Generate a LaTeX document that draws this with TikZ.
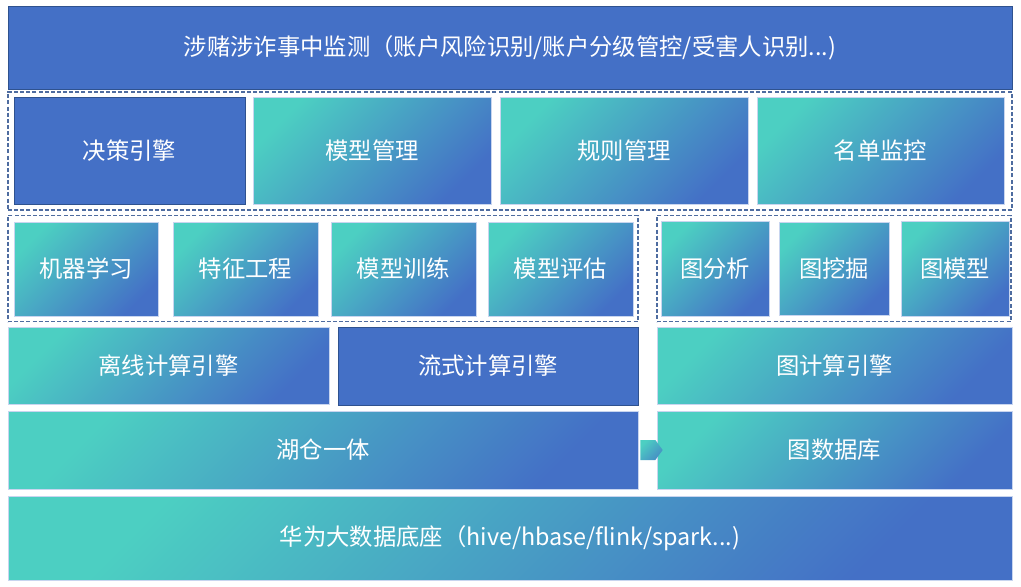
\documentclass[tikz,border=0pt]{standalone}
\usepackage{fontspec}
\setmainfont{Noto Sans CJK SC}
\usetikzlibrary{calc}
\definecolor{tealc}{HTML}{4CCFC2}
\definecolor{bluec}{HTML}{4470C6}
\definecolor{edgec}{HTML}{2F528F}
\definecolor{paleedge}{HTML}{C8D5EF}

\begin{document}
\begin{tikzpicture}[x=0.75pt,y=-0.75pt,
    sz/.style 2 args={minimum width=#1*0.75pt,minimum height=#2*0.75pt,inner sep=0pt},
    gradbox/.style={draw=paleedge,line width=0.5pt,top color=tealc,bottom color=bluec,shading angle=45,text=white,font=\fontsize{17.5}{19}\selectfont},
    bluebox/.style={draw=edgec,line width=0.7pt,fill=bluec,text=white,font=\fontsize{17.5}{19}\selectfont},
    groupbox/.style={draw=edgec!85!white,line width=0.8pt,dash pattern=on 3pt off 1.6pt}]
    \useasboundingbox (0,0) rectangle (1021,586);
    \fill[white] (0,0) rectangle (1021,586);
    \node[bluebox,sz={1004}{83}] (monitor) at (510,47.5) {涉赌涉诈事中监测（账户风险识别/账户分级管控/受害人识别...)};
    \node[groupbox,sz={1004}{118}] (appgroup) at (510,151) {};
    \node[bluebox,sz={231}{107}] (decision) at (129.5,150.5) {决策引擎};
    \node[gradbox,sz={238}{107}] (modelmgmt) at (372,150.5) {模型管理};
    \node[gradbox,sz={248}{107}] (rulemgmt) at (624,150.5) {规则管理};
    \node[gradbox,sz={247}{107}] (listmon) at (880.5,150.5) {名单监控};
    \node[groupbox,sz={630}{106}] (mlgroup) at (323,268.5) {};
    \node[gradbox,sz={144}{94}] (ml) at (86,269) {机器学习};
    \node[gradbox,sz={145}{94}] (feat) at (245.5,269) {特征工程};
    \node[gradbox,sz={145}{94}] (train) at (403.5,269) {模型训练};
    \node[gradbox,sz={145}{94}] (eval) at (560.5,269) {模型评估};
    \node[groupbox,sz={354}{106}] (graphgroup) at (834,268.5) {};
    \node[gradbox,sz={108}{95}] (ganalysis) at (715,269) {图分析};
    \node[gradbox,sz={110}{93}] (gmining) at (834,268.5) {图挖掘};
    \node[gradbox,sz={108}{95}] (gmodel) at (955,269) {图模型};
    \node[gradbox,sz={321}{77}] (offline) at (168.5,365.5) {离线计算引擎};
    \node[bluebox,sz={300}{78}] (stream) at (488,366) {流式计算引擎};
    \node[gradbox,sz={355}{77}] (gcompute) at (834.5,365.5) {图计算引擎};
    \node[gradbox,sz={630}{78}] (lakehouse) at (323,450) {湖仓一体};
    \node[gradbox,sz={355}{78}] (graphdb) at (834.5,450) {图数据库};
    \shade[top color=tealc,bottom color=bluec!70!tealc,shading angle=45]
        ($(lakehouse.east)+(2,-10)$) -- ($(lakehouse.east)+(17,-10)$) -- ($(graphdb.west)+(6,0)$)
        -- ($(lakehouse.east)+(17,10)$) -- ($(lakehouse.east)+(2,10)$) -- cycle;
    \node[gradbox,sz={1004}{84}] (platform) at (510,538) {华为大数据底座（hive/hbase/flink/spark...)};
\end{tikzpicture}
\end{document}
